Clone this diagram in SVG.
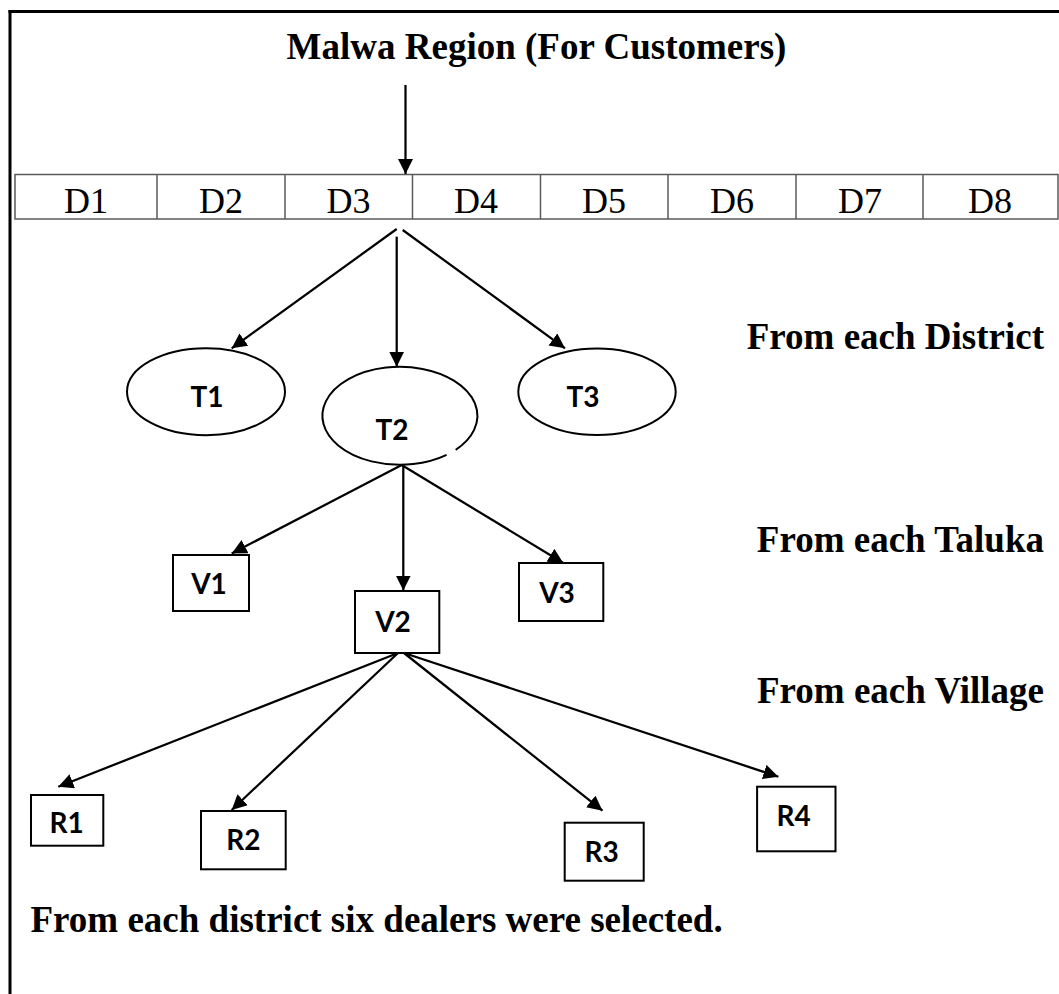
<svg xmlns="http://www.w3.org/2000/svg" width="1059" height="994" viewBox="0 0 1059 994">
<style>
.serifB{font-family:"Liberation Serif","Times New Roman",serif;font-weight:bold;font-size:37px;fill:#000}
.dlab{font-family:"Liberation Serif","Times New Roman",serif;font-size:36px;fill:#000;text-anchor:middle}
.nlab{font-family:Lato,"Open Sans","Liberation Sans",sans-serif;font-weight:bold;font-size:28px;fill:#000;text-anchor:middle}
.shape{fill:#fff;stroke:#000;stroke-width:2}
.conn{stroke:#000;stroke-width:2.25;fill:none;marker-end:url(#ah)}
.cell{fill:#fff;stroke:#5a5a5a;stroke-width:1.5}
</style>
<defs>
<marker id="ah" markerUnits="userSpaceOnUse" markerWidth="16" markerHeight="16" viewBox="0 0 16 16" refX="15" refY="7.5" orient="auto">
<path d="M0,0 L15,7.5 L0,15 z" fill="#000"/>
</marker>
</defs>
<rect x="0" y="0" width="1059" height="994" fill="#fff"/>
<g id="frame" stroke="#000" stroke-width="3">
<line x1="8.5" y1="11.5" x2="1059" y2="11.5"/>
<line x1="10" y1="10" x2="10" y2="994"/>
</g>
<text class="serifB" x="536.5" y="59" text-anchor="middle">Malwa Region (For Customers)</text>
<g id="districts">
<rect class="cell" x="15" y="174.5" width="1043" height="44.5"/>
<g stroke="#5a5a5a" stroke-width="1.5">
<line x1="157" y1="174.5" x2="157" y2="219"/>
<line x1="285" y1="174.5" x2="285" y2="219"/>
<line x1="412.5" y1="174.5" x2="412.5" y2="219"/>
<line x1="540.5" y1="174.5" x2="540.5" y2="219"/>
<line x1="668" y1="174.5" x2="668" y2="219"/>
<line x1="796" y1="174.5" x2="796" y2="219"/>
<line x1="923" y1="174.5" x2="923" y2="219"/>
</g>
<text class="dlab" x="86" y="213">D1</text>
<text class="dlab" x="221" y="213">D2</text>
<text class="dlab" x="348.5" y="213">D3</text>
<text class="dlab" x="476" y="213">D4</text>
<text class="dlab" x="604" y="213">D5</text>
<text class="dlab" x="732" y="213">D6</text>
<text class="dlab" x="860" y="213">D7</text>
<text class="dlab" x="990" y="213">D8</text>
</g>
<g id="connectors">
<line class="conn" x1="405.5" y1="85" x2="405.5" y2="174"/>
<line class="conn" x1="396.7" y1="229" x2="231.7" y2="348.3"/>
<line class="conn" x1="396.7" y1="236.7" x2="396.7" y2="366.7"/>
<line class="conn" x1="402.7" y1="230" x2="565" y2="348.3"/>
<line class="conn" x1="401.7" y1="465" x2="231.7" y2="553.5"/>
<line class="conn" x1="403.3" y1="465" x2="403.3" y2="590.5"/>
<line class="conn" x1="401.7" y1="465" x2="563.3" y2="563"/>
<line class="conn" x1="398" y1="653" x2="58.3" y2="786.7"/>
<line class="conn" x1="398" y1="653" x2="231.7" y2="810"/>
<line class="conn" x1="404" y1="653" x2="602.5" y2="810.7"/>
<line class="conn" x1="404" y1="653" x2="778.4" y2="776.7"/>
</g>
<g id="T1"><ellipse class="shape" cx="206" cy="391.7" rx="79" ry="43.5"/><text class="nlab" x="207" y="406.7">T1</text></g>
<g id="T2"><path class="shape" d="M446.6 454.9 A77.5 49 0 1 1 455.7 449.8"/><text class="nlab" x="392" y="440">T2</text></g>
<g id="T3"><ellipse class="shape" cx="597" cy="391.7" rx="78.7" ry="43.3"/><text class="nlab" x="583" y="406.7">T3</text></g>
<g id="V1"><rect class="shape" x="173" y="555" width="76" height="56"/><text class="nlab" x="209" y="594">V1</text></g>
<g id="V2"><rect class="shape" x="355" y="591" width="84.3" height="62"/><text class="nlab" x="393" y="631.7">V2</text></g>
<g id="V3"><rect class="shape" x="519" y="563" width="84.3" height="58"/><text class="nlab" x="557" y="603.3">V3</text></g>
<g id="R1"><rect class="shape" x="31" y="795" width="72.3" height="50.7"/><text class="nlab" x="66.7" y="833.3">R1</text></g>
<g id="R2"><rect class="shape" x="201" y="811" width="84.7" height="58.3"/><text class="nlab" x="243.3" y="850">R2</text></g>
<g id="R3"><rect class="shape" x="564.7" y="822.7" width="79" height="58"/><text class="nlab" x="601.6" y="861.7">R3</text></g>
<g id="R4"><rect class="shape" x="757.1" y="786.7" width="78.4" height="64.6"/><text class="nlab" x="793.5" y="825.7">R4</text></g>
<g id="labels">
<text class="serifB" x="1044" y="349" text-anchor="end">From each District</text>
<text class="serifB" x="1044" y="552" text-anchor="end">From each Taluka</text>
<text class="serifB" x="1044" y="703.3" text-anchor="end">From each Village</text>
<text class="serifB" x="30.5" y="932">From each district six dealers were selected.</text>
</g>
</svg>
